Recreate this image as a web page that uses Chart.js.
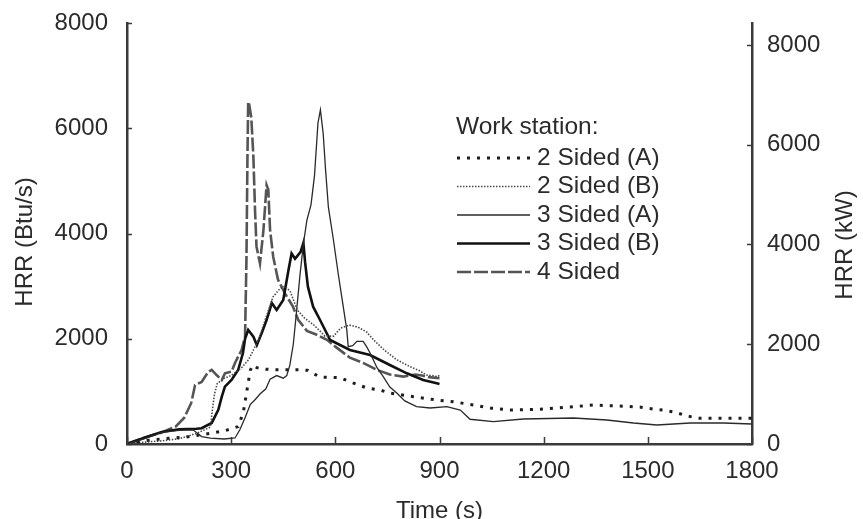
<!DOCTYPE html>
<html lang="en">
<head>
<meta charset="UTF-8">
<title>Work station HRR</title>
<script src="https://cdn.jsdelivr.net/npm/chart.js@4.4.0/dist/chart.umd.min.js"></script>
<style>
  html, body { margin: 0; padding: 0; background: #fff; }
  .chart-container { position: relative; width: 863px; height: 519px; }
</style>
</head>
<body>
<div class="chart-container"><canvas id="hrrChart"></canvas></div>
<script>
// Heat release rate (Btu/s) against time (s) for each work station layout
const time2A = [0, 30, 60, 120, 170, 220, 280, 320, 335, 345, 355, 362, 374, 400, 440, 498, 520, 556, 613, 651, 691, 729, 757, 825, 892, 940, 997, 1050, 1103, 1190, 1266, 1343, 1420, 1480, 1520, 1544, 1583, 1612, 1650, 1700, 1800];
const hrr2A  = [0, 40, 70, 110, 130, 180, 250, 330, 600, 1000, 1400, 1500, 1450, 1420, 1410, 1410, 1400, 1270, 1260, 1160, 1064, 1026, 969, 899, 836, 804, 741, 680, 646, 660, 700, 740, 720, 700, 660, 646, 595, 532, 488, 488, 488];

const time2B = [0, 40, 100, 150, 200, 240, 246, 252, 260, 280, 300, 330, 350, 365, 380, 400, 421, 440, 455, 470, 490, 510, 540, 570, 595, 615, 640, 665, 690, 710, 740, 777, 815, 840, 863, 880, 892, 900];
const hrr2B  = [0, 30, 60, 100, 200, 320, 650, 950, 1150, 1250, 1300, 1450, 1600, 1800, 2000, 2400, 2800, 2950, 3000, 2900, 2550, 2400, 2250, 2050, 2050, 2200, 2260, 2220, 2130, 1980, 1790, 1600, 1470, 1400, 1310, 1300, 1280, 1300];

const time3A = [0, 50, 100, 150, 190, 215, 240, 280, 311, 325, 340, 355, 370, 383, 400, 412, 431, 450, 460, 469, 479, 488, 498, 508, 518, 530, 540, 550, 557, 565, 572, 580, 594, 608, 623, 633, 637, 650, 662, 680, 690, 700, 720, 738, 757, 777, 800, 834, 873, 921, 960, 988, 1055, 1141, 1286, 1382, 1459, 1526, 1622, 1718, 1800];
const hrr3A  = [0, 100, 220, 260, 270, 140, 110, 95, 114, 270, 500, 750, 850, 950, 1050, 1230, 1300, 1250, 1300, 1500, 1900, 2500, 3200, 3800, 4250, 4550, 5100, 6100, 6350, 5900, 5200, 4500, 3900, 3250, 2600, 2170, 1850, 1870, 1950, 1950, 1850, 1730, 1450, 1280, 1083, 969, 820, 709, 684, 709, 646, 470, 424, 475, 494, 456, 399, 361, 399, 399, 380];

const time3B = [0, 50, 100, 150, 200, 215, 244, 263, 273, 282, 301, 320, 334, 340, 349, 364, 374, 388, 402, 417, 431, 450, 465, 474, 484, 500, 508, 513, 521, 536, 556, 585, 642, 700, 757, 806, 853, 892, 900];
const hrr3B  = [0, 120, 230, 280, 290, 300, 400, 650, 900, 1090, 1216, 1406, 1729, 2000, 2166, 2039, 1881, 2109, 2356, 2679, 2546, 2736, 3300, 3620, 3520, 3650, 3820, 3450, 2990, 2609, 2356, 1976, 1786, 1691, 1501, 1343, 1216, 1153, 1140];

const time4 = [0, 50, 100, 140, 165, 185, 196, 215, 234, 244, 258, 273, 282, 301, 311, 330, 340, 344, 347, 349, 352, 358, 364, 369, 373, 383, 393, 402, 407, 412, 421, 435, 455, 478, 493, 518, 545, 576, 600, 642, 680, 719, 757, 796, 830, 850, 870, 900];
const hrr4  = [0, 120, 220, 330, 500, 780, 1120, 1180, 1370, 1410, 1310, 1216, 1343, 1374, 1540, 1786, 2040, 3500, 5500, 6500, 6450, 6200, 5460, 4390, 3750, 3430, 4070, 4920, 4830, 4070, 3560, 3120, 2860, 2610, 2360, 2150, 2080, 1980, 1850, 1640, 1540, 1410, 1320, 1280, 1320, 1300, 1270, 1250];

const seriesNames = ['2 Sided (A)', '2 Sided (B)', '3 Sided (A)', '3 Sided (B)', '4 Sided'];
const timeTicks = [0, 300, 600, 900, 1200, 1500, 1800];
const btuTicks = [0, 2000, 4000, 6000, 8000];
const kwTicks = [0, 2000, 4000, 6000, 8000];
const BTU_TO_KW = 1.055;

const FONT = '"Liberation Sans", Arial, Helvetica, sans-serif';
const TEXT = '#2b2b2b';
const AXIS = '#3a3a3a';

function pts(ts, vs) { return ts.map((t, i) => ({ x: t, y: vs[i] })); }
const plain = v => String(v);

const styles = [
  { borderColor: '#1e1e1e', borderWidth: 3, borderDash: [3, 7] },
  { borderColor: '#4a4a4a', borderWidth: 1.6, borderDash: [1.5, 1.5] },
  { borderColor: '#2a2a2a', borderWidth: 1.3, borderDash: [] },
  { borderColor: '#111', borderWidth: 2.6, borderDash: [] },
  { borderColor: '#555', borderWidth: 2.6, borderDash: [14, 3] }
];
const series = [pts(time2A, hrr2A), pts(time2B, hrr2B), pts(time3A, hrr3A), pts(time3B, hrr3B), pts(time4, hrr4)];

// vertical axes: fixed width, no extra room reserved for half labels
function fixVertical(width) {
  return s => { s.width = width; s.paddingTop = 0; s.paddingBottom = 0; };
}

// inward tick marks on all three axes
const innerTicks = {
  id: 'innerTicks',
  afterDraw(chart) {
    const { ctx, chartArea: a, scales } = chart;
    ctx.save();
    ctx.strokeStyle = AXIS;
    ctx.lineWidth = 1.5;
    ctx.beginPath();
    scales.x.ticks.forEach(t => {
      const px = Math.round(scales.x.getPixelForValue(t.value)) + 0.5;
      ctx.moveTo(px, a.bottom); ctx.lineTo(px, a.bottom - 7);
    });
    scales.y.ticks.forEach(t => {
      const py = Math.round(scales.y.getPixelForValue(t.value)) + 0.5;
      ctx.moveTo(a.left, py); ctx.lineTo(a.left + 5, py);
    });
    scales.y1.ticks.forEach(t => {
      const py = Math.round(scales.y1.getPixelForValue(t.value)) + 0.5;
      ctx.moveTo(a.right, py); ctx.lineTo(a.right - 5, py);
    });
    ctx.stroke();
    ctx.restore();
  }
};

// axis titles
const axisTitles = {
  id: 'axisTitles',
  afterDraw(chart) {
    const { ctx, chartArea: a } = chart;
    ctx.save();
    ctx.fillStyle = TEXT;
    ctx.font = '24px ' + FONT;
    ctx.textAlign = 'center';
    ctx.textBaseline = 'middle';
    ctx.fillText('Time (s)', (a.left + a.right) / 2, 511);
    ctx.save();
    ctx.translate(25, 242);
    ctx.rotate(-Math.PI / 2);
    ctx.fillText('HRR (Btu/s)', 0, 0);
    ctx.restore();
    ctx.translate(845, 245);
    ctx.rotate(-Math.PI / 2);
    ctx.fillText('HRR (kW)', 0, 0);
    ctx.restore();
  }
};

// legend block with title
const stationLegend = {
  id: 'stationLegend',
  afterDraw(chart) {
    const { ctx } = chart;
    ctx.save();
    ctx.fillStyle = TEXT;
    ctx.font = '24.5px ' + FONT;
    ctx.textBaseline = 'middle';
    ctx.textAlign = 'left';
    ctx.fillText('Work station:', 456, 127);
    chart.data.datasets.forEach((ds, i) => {
      const y = 158 + i * 28.5;
      ctx.save();
      ctx.strokeStyle = ds.borderColor;
      ctx.lineWidth = ds.borderWidth;
      ctx.setLineDash(ds.borderDash);
      ctx.beginPath();
      ctx.moveTo(457, y); ctx.lineTo(530, y);
      ctx.stroke();
      ctx.restore();
      ctx.fillText(ds.label, 537, y);
    });
    ctx.restore();
  }
};

const ctx = document.getElementById('hrrChart').getContext('2d');
new Chart(ctx, {
  type: 'line',
  data: {
    datasets: series.map((d, i) => Object.assign({
      label: seriesNames[i],
      data: d,
      yAxisID: 'y',
      pointRadius: 0,
      tension: 0,
      fill: false
    }, styles[i]))
  },
  options: {
    responsive: true,
    maintainAspectRatio: false,
    animation: false,
    layout: { padding: { top: 23, left: 0, right: 0, bottom: 0 } },
    plugins: { legend: { display: false }, tooltip: { enabled: false } },
    scales: {
      x: {
        type: 'linear',
        min: 0,
        max: 1800,
        afterBuildTicks: s => { s.ticks = timeTicks.map(v => ({ value: v })); },
        afterFit: s => { s.height = 75; },
        grid: { display: false, drawTicks: false },
        border: { display: true, color: AXIS, width: 2.5 },
        ticks: { color: TEXT, font: { family: FONT, size: 24 }, padding: 13, maxRotation: 0, callback: plain }
      },
      y: {
        type: 'linear',
        position: 'left',
        min: 0,
        max: 8000,
        afterBuildTicks: s => { s.ticks = btuTicks.map(v => ({ value: v })); },
        afterFit: fixVertical(127),
        grid: { display: false, drawTicks: false },
        border: { display: true, color: AXIS, width: 2.5 },
        ticks: { color: TEXT, font: { family: FONT, size: 24 }, padding: 19, callback: plain }
      },
      y1: {
        type: 'linear',
        position: 'right',
        min: 0,
        max: 8000 * BTU_TO_KW,
        afterBuildTicks: s => { s.ticks = kwTicks.map(v => ({ value: v })); },
        afterFit: fixVertical(111),
        grid: { display: false, drawTicks: false },
        border: { display: true, color: AXIS, width: 2.5 },
        ticks: { color: TEXT, font: { family: FONT, size: 24 }, padding: 15, callback: plain }
      }
    }
  },
  plugins: [innerTicks, axisTitles, stationLegend]
});
</script>
</body>
</html>
